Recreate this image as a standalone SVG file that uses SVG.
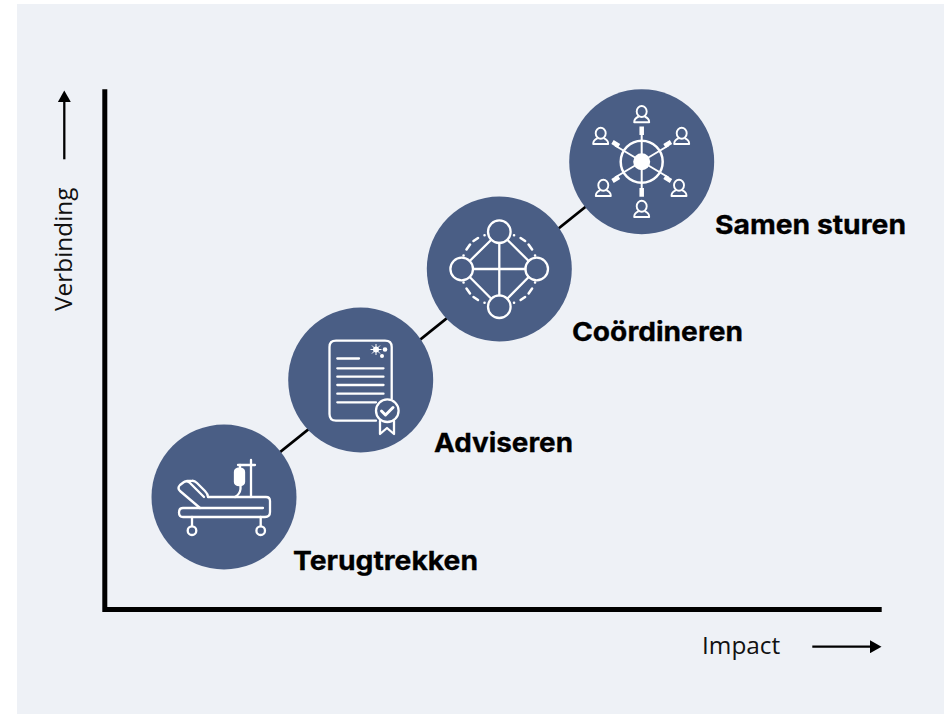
<svg xmlns="http://www.w3.org/2000/svg" width="944" height="714" viewBox="0 0 944 714">
<defs>
<marker id="ah" markerUnits="userSpaceOnUse" markerWidth="12" markerHeight="13" refX="6" refY="6.500" orient="auto"><path d="M0 0L11.500 6.500L0 13Z" fill="#000"/></marker>
<g id="person" fill="none" stroke="#fff" stroke-width="1.900" stroke-linejoin="round"><ellipse cx="0" cy="-1.800" rx="5" ry="5.500"/><path d="M-3 3.200Q-7.500 5 -7.500 9H7.500Q7.500 5 3 3.200"/></g>
<path id="dq" d="M484.500 235.300h.1M473.500 241L478 238M466.500 249.500L470 244.500M463.500 255.500h.1" fill="none" stroke="#fff" stroke-width="2.500" stroke-linecap="round"/>
</defs>
<style>
.circle{fill:#4a5e85}
.ic{fill:none;stroke:#fff;stroke-width:2.300;stroke-linecap:round;stroke-linejoin:round}
.lb{font-family:"Inter","Liberation Sans",sans-serif;font-weight:700;font-size:26px;stroke:#000;stroke-width:.3px;fill:#000}
.ax{font-family:"Open Sans","Noto Sans",sans-serif;font-size:24.400px;fill:#111}
</style>
<rect width="944" height="714" fill="#fff"/>
<rect x="17" y="4" width="927" height="710" fill="#eef1f6"/>
<g id="connectors" fill="none" stroke="#000">
<path d="M104.800 89.300V609.500H881.700" stroke-width="5"/>
<path d="M224 497L641.700 161.700" stroke-width="2.700"/>
<path d="M64.300 159.300V96" stroke-width="2.300" marker-end="url(#ah)"/>
<path d="M812.300 646.700H876" stroke-width="2.300" marker-end="url(#ah)"/>
</g>
<g id="n1"><circle class="circle" cx="224" cy="497" r="72.500"/>
<g class="ic">
<path d="M251 460V497M238 465H255"/>
<path d="M240 465V468M235 472Q235 469 239.500 468.500Q244 469 244 472V482Q244 485 239.500 485Q235 485 235 482Z" fill="#fff"/>
<path d="M240.500 485V489Q240 494 235 497"/>
<path d="M208 497H266Q270 497 270 501V512Q270 517 265 517H183Q179 517 179 512.500Q179 508 183 508H263"/>
<path d="M200 508L180 491Q177 488 180 485L184 482Q187 480 190 483L204 497"/>
<path d="M187 481L191 481Q194 480 197 483L205 491Q208 494 208 497"/>
<path d="M192 517V526M260.700 517V526"/>
<circle cx="192" cy="530.700" r="4.300"/><circle cx="260.700" cy="530.700" r="4.300"/>
</g></g>
<g id="n2"><circle class="circle" cx="360.700" cy="380" r="72.500"/>
<g class="ic">
<path d="M376 420.700H336Q329.500 420.700 329.500 414V347Q329.500 340.700 336 340.700H385Q391.700 340.700 391.700 347V399"/>
<path d="M337.300 358.500H359M337.300 368.300H383.500M337.300 376.700H383.500M337.300 385H383.500M337.300 393.700H383.500M337.300 402.300H376"/>
<circle cx="387.300" cy="410.700" r="11.300"/>
<path d="M381.500 411L385.500 415L393 407.500" stroke-width="3"/>
<path d="M380 421V434L387 428L394 434V421"/>
</g>
<g fill="#fff"><circle cx="376" cy="349.500" r="3"/><circle cx="385" cy="349.500" r="2.300"/><circle cx="382" cy="356" r="2"/></g>
<path d="M376 344V355M370.500 349.500H381.500M372 345.500L380 353.500M380 345.500L372 353.500" stroke="#fff" stroke-width="1"/>
</g>
<g id="n3"><circle class="circle" cx="499.300" cy="269" r="72.500"/>
<use href="#dq"/>
<use href="#dq" transform="translate(998.600 0) scale(-1 1)"/>
<use href="#dq" transform="translate(0 538) scale(1 -1)"/>
<use href="#dq" transform="translate(998.600 538) scale(-1 -1)"/>
<g class="ic" stroke-width="2.500">
<circle cx="499.300" cy="231.700" r="11.300"/><circle cx="499.300" cy="306.700" r="11.300"/><circle cx="461.700" cy="269" r="11.300"/><circle cx="536.700" cy="269" r="11.300"/>
<path d="M499.300 243V295.400M473 269H525.400M491.300 239.700L469.700 261M507.300 239.700L528.700 261M469.700 277L491.300 298.700M528.700 277L507.300 298.700"/>
</g></g>
<g id="n4"><circle class="circle" cx="641.700" cy="161.700" r="72.500"/>
<g stroke="#fff" fill="none">
<circle cx="641.700" cy="161.700" r="21" stroke-width="2.500"/>
<circle cx="641.700" cy="161.700" r="8.500" fill="#fff" stroke="none"/>
<path d="M641.700 130V193M615 145.500L668.500 177.500M615 177.500L668.500 145.500" stroke-width="2"/>
<path d="M641.700 126.500V135M641.700 188V196.700M612.500 142L619 146M612.500 181L619 177M671 142L664.500 146M671 181L664.500 177" stroke-width="4.500"/>
</g>
<use href="#person" x="641.700" y="113.300"/>
<use href="#person" x="641.700" y="208"/>
<use href="#person" x="600.700" y="135"/>
<use href="#person" x="681.700" y="135"/>
<use href="#person" x="603.300" y="187"/>
<use href="#person" x="679" y="187"/>
</g>
<text class="lb" x="293" y="570" textLength="185" lengthAdjust="spacingAndGlyphs">Terugtrekken</text>
<text class="lb" x="434" y="452" textLength="139" lengthAdjust="spacingAndGlyphs">Adviseren</text>
<text class="lb" x="572" y="341" textLength="171" lengthAdjust="spacingAndGlyphs">Coördineren</text>
<text class="lb" x="715" y="234" textLength="191" lengthAdjust="spacingAndGlyphs">Samen sturen</text>
<text class="ax" x="702" y="654">Impact</text>
<text class="ax" transform="translate(72 311) rotate(-90)">Verbinding</text>
</svg>
